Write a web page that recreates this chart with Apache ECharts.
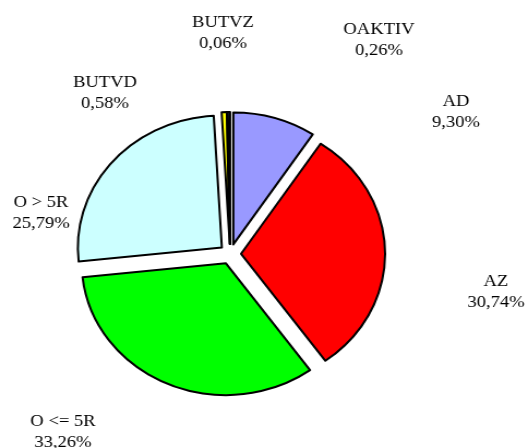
<!DOCTYPE html>
<html>
<head>
<meta charset="utf-8">
<script src="https://cdn.jsdelivr.net/npm/echarts@6/dist/echarts.min.js"></script>
<style>
    html, body { margin: 0; padding: 0; background: #fff; }
    .wrap { width: 528px; height: 448px; overflow: hidden; }
    /* Excel 的饼图是横向拉伸的椭圆 */
    #pieChart { width: 484px; height: 448px; transform: scaleX(1.0909); transform-origin: 0 0; }
</style>
</head>
<body>
<div class="wrap"><div id="pieChart"></div></div>
<script>
    // 数据
    var categories = ['AD', 'AZ', 'O <= 5R', 'O > 5R', 'BUTVD', 'BUTVZ', 'OAKTIV']
    var shares = [9.30, 30.74, 33.26, 25.79, 0.58, 0.06, 0.26]
    var colors = ['#9999FF', '#FF0000', '#00FF00', '#CCFFFF', '#FFFF00', '#000080', '#3366FF']

    var stretch = 528 / 484
    // label 位置 (屏幕坐标, Excel 里手动拖过的)
    var labelPos = [
        [456, 112], [496, 292], [63, 432], [41, 213],
        [105, 93], [223, 33], [379, 40]
    ]

    var pieCenter = [211, 254]
    var pieRadius = 132

    var myChart = echarts.init(document.getElementById('pieChart'))

    // 扇区 (全部分离)
    var sliceData = categories.map(function (name, i) {
        return {
            name: name,
            value: shares[i],
            selected: true,
            itemStyle: { color: colors[i] }
        }
    })
    // 标签用的透明 pie
    var labelData = categories.map(function (name, i) {
        return { name: name, value: shares[i] }
    })

    myChart.setOption({
        animation: false,
        series: [{
            type: 'pie',
            center: pieCenter,
            radius: pieRadius,
            startAngle: 90,
            clockwise: true,
            selectedMode: 'multiple',
            selectedOffset: 10,
            itemStyle: {
                borderColor: '#000',
                borderWidth: 2
            },
            emphasis: { disabled: true },
            label: { show: false },
            labelLine: { show: false },
            data: sliceData
        }, {
            type: 'pie',
            center: pieCenter,
            radius: pieRadius,
            startAngle: 90,
            clockwise: true,
            silent: true,
            selectedMode: false,
            avoidLabelOverlap: false,
            itemStyle: {
                color: 'rgba(0,0,0,0)',
                borderWidth: 0
            },
            emphasis: { disabled: true },
            label: {
                show: true,
                color: '#000',
                fontFamily: 'Liberation Serif',
                fontSize: 17,
                lineHeight: 21,
                align: 'center',
                formatter: function (p) {
                    return p.name + '\n' + p.value.toFixed(2).replace('.', ',') + '%'
                }
            },
            labelLine: { show: false },
            labelLayout: function (params) {
                var pos = labelPos[params.dataIndex]
                return {
                    x: pos[0] / stretch,
                    y: pos[1],
                    align: 'center',
                    verticalAlign: 'middle'
                }
            },
            data: labelData
        }]
    })
</script>
</body>
</html>
